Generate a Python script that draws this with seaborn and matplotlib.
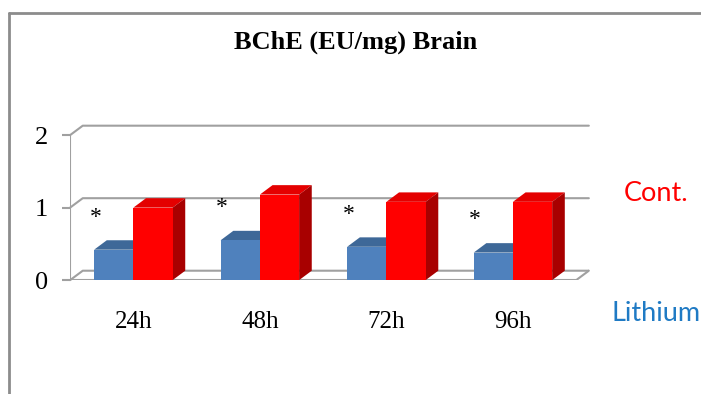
import numpy as np
import pandas as pd
import seaborn as sns
import matplotlib.pyplot as plt
from matplotlib.patches import Polygon
from matplotlib.lines import Line2D

# Data
times = ["24h", "48h", "72h", "96h"]
lithium = [0.42, 0.55, 0.46, 0.38]
cont = [1.0, 1.18, 1.08, 1.08]
groups = ["Lithium", "Cont."]
colors = {"Lithium": "#4F81BD", "Cont.": "#FF0000"}
tops = {"Lithium": "#3E6898", "Cont.": "#E40000"}
sides = {"Lithium": "#2F5280", "Cont.": "#A80000"}

df = pd.DataFrame({
    "time": times * 2,
    "group": ["Lithium"] * 4 + ["Cont."] * 4,
    "value": lithium + cont,
})

sns.set_style("white")
plt.rcParams["text.color"] = "black"
plt.rcParams["xtick.color"] = "black"
plt.rcParams["ytick.color"] = "black"
fig = plt.figure(figsize=(7.01, 3.94), dpi=100)
ax = fig.add_axes([0.10, 0.289, 0.74, 0.392])

sns.barplot(data=df, x="time", y="value", hue="group", hue_order=groups,
            palette=colors, width=0.62, saturation=1, legend=False, ax=ax,
            edgecolor="none")

# fake 3D depth
dx, dy = 0.10, 0.13
grid_c = "#A0A0A0"
ax.set_xlim(-0.5, 3.5 + dx)
ax.set_ylim(0, 2 + dy)
for v in [0, 1, 2]:
    ax.plot([-0.5, -0.5 + dx, 3.5 + dx], [v, v + dy, v + dy],
            color=grid_c, lw=1.5, zorder=0, clip_on=False)
ax.plot([-0.5, 3.5], [0, 0], color=grid_c, lw=1.5, zorder=0)
ax.plot([3.5, 3.5 + dx], [0, dy], color=grid_c, lw=1.5, zorder=0)
ax.plot([-0.5, -0.5], [0, 2], color=grid_c, lw=1.5, zorder=0)

n = len(times)
for i, bar in enumerate(ax.patches[:2 * n]):
    g = groups[i // n]
    x0, w, h = bar.get_x(), bar.get_width(), bar.get_height()
    top = Polygon([(x0, h), (x0 + w, h), (x0 + w + dx, h + dy), (x0 + dx, h + dy)],
                  closed=True, facecolor=tops[g], edgecolor="none", zorder=3)
    side = Polygon([(x0 + w, 0), (x0 + w + dx, dy), (x0 + w + dx, h + dy), (x0 + w, h)],
                   closed=True, facecolor=sides[g], edgecolor="none", zorder=3)
    ax.add_patch(top)
    ax.add_patch(side)
    bar.set_zorder(4)

# significance marks over Lithium bars
for i, v in enumerate(lithium):
    ax.text(i - 0.3, v + 0.45, "*", ha="center", va="center", color="black",
            fontsize=17, family="Liberation Serif")

for s in ax.spines.values():
    s.set_visible(False)
ax.set_yticks([0, 1, 2])
ax.set_yticklabels(["0", "1", "2"], family="Liberation Serif", fontsize=19)
ax.set_xticklabels(times, family="Liberation Serif", fontsize=18)
ax.tick_params(axis="y", length=6, color=grid_c, width=1.5, left=True, pad=10)
ax.tick_params(axis="x", length=0, pad=22)
ax.set_xlabel("")
ax.set_ylabel("")

fig.text(0.508, 0.893, "BChE (EU/mg) Brain", ha="center", va="center",
         family="Liberation Serif", fontweight="bold", fontsize=19)
fig.text(0.890, 0.51, "Cont.", color="#FF0000", ha="left", va="center",
         family="Lato", fontsize=19.5)
fig.text(0.872, 0.205, "Lithium", color="#1F7AC4", ha="left", va="center",
         family="Lato", fontsize=19.5)

# outer chart border
fig.add_artist(Line2D([0.013, 0.013], [0, 0.967], color="#8C8C8C", lw=2))
fig.add_artist(Line2D([0.013, 1.0], [0.967, 0.967], color="#8C8C8C", lw=2))

fig.savefig("out.png", dpi=100)
